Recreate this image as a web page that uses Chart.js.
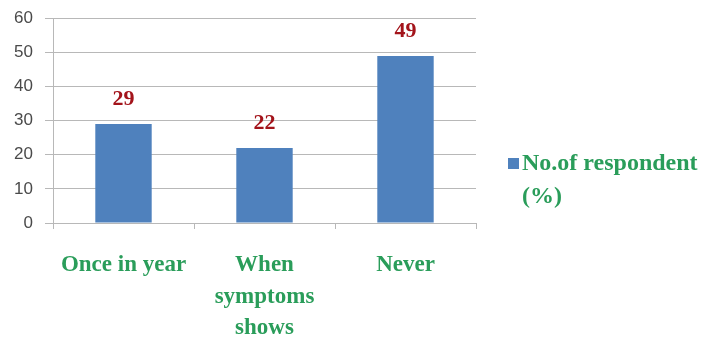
<!DOCTYPE html>
<html>
<head>
<meta charset="utf-8">
<script src="https://cdn.jsdelivr.net/npm/chart.js@4/dist/chart.umd.min.js"></script>
<style>
  html, body { margin: 0; padding: 0; background: #fff; }
  #wrap { width: 708px; height: 337px; position: relative; }
</style>
</head>
<body>
<div id="wrap"><canvas id="c" width="708" height="337"></canvas></div>
<script>
// Check-up frequency categories and respondent shares
const categories = ["Once in year", ["When", "symptoms", "shows"], "Never"];
const respondentPct = [29, 22, 49];
const yTicks = [0, 10, 20, 30, 40, 50, 60];
const seriesName = ["No.of respondent", "(%)"];

const BAR = "#4f81bd";
const GREEN = "#2a9d5a";
const RED = "#a3141b";
const GRID = "#b8b8b8";
const SERIF = "'Liberation Serif', 'Times New Roman', serif";
const SANS = "'Liberation Sans', Arial, sans-serif";

// Value labels above each bar
const valueLabels = {
  id: "valueLabels",
  afterDatasetsDraw(chart) {
    const ctx = chart.ctx;
    const meta = chart.getDatasetMeta(0);
    ctx.save();
    ctx.font = "bold 22px " + SERIF;
    ctx.fillStyle = RED;
    ctx.textAlign = "center";
    ctx.textBaseline = "middle";
    meta.data.forEach((bar, i) => {
      ctx.fillText(String(chart.data.datasets[0].data[i]), bar.x, bar.y - 25);
    });
    ctx.restore();
  }
};

// Legend drawn at the right with a wrapped label
const sideLegend = {
  id: "sideLegend",
  afterDraw(chart) {
    const ctx = chart.ctx;
    ctx.save();
    ctx.fillStyle = BAR;
    ctx.fillRect(508, 158, 11, 11);
    ctx.font = "bold 24px " + SERIF;
    ctx.fillStyle = GREEN;
    ctx.textAlign = "left";
    ctx.textBaseline = "middle";
    ctx.fillText(seriesName[0], 522, 164);
    ctx.fillText(seriesName[1], 522, 197);
    ctx.restore();
  }
};

new Chart(document.getElementById("c"), {
  type: "bar",
  data: {
    labels: categories,
    datasets: [{
      label: seriesName.join(" "),
      data: respondentPct,
      backgroundColor: BAR,
      borderWidth: 0,
      categoryPercentage: 1.0,
      barPercentage: 0.4
    }]
  },
  options: {
    responsive: false,
    animation: false,
    layout: { padding: { top: 0, right: 232, left: 0, bottom: 0 } },
    plugins: { legend: { display: false }, tooltip: { enabled: false } },
    scales: {
      x: {
        grid: {
          display: true,
          drawOnChartArea: false,
          drawTicks: true,
          tickLength: 6,
          color: GRID,
          offset: true
        },
        border: { color: GRID, width: 1 },
        ticks: {
          color: GREEN,
          padding: 21,
          maxRotation: 0,
          autoSkip: false,
          font: { family: SERIF, size: 23, weight: "bold", lineHeight: 1.35 }
        },
        afterFit(scale) { scale.height = 114; }
      },
      y: {
        min: 0,
        max: 60,
        afterBuildTicks(scale) { scale.ticks = yTicks.map(v => ({ value: v })); },
        grid: { color: GRID, tickLength: 8, drawTicks: true },
        border: { color: GRID, width: 1 },
        ticks: {
          color: "#4a4a4a",
          padding: 12,
          font: { family: SANS, size: 17, lineHeight: 0.75 }
        },
        afterFit(scale) { scale.width = 53; }
      }
    }
  },
  plugins: [valueLabels, sideLegend]
});
</script>
</body>
</html>
